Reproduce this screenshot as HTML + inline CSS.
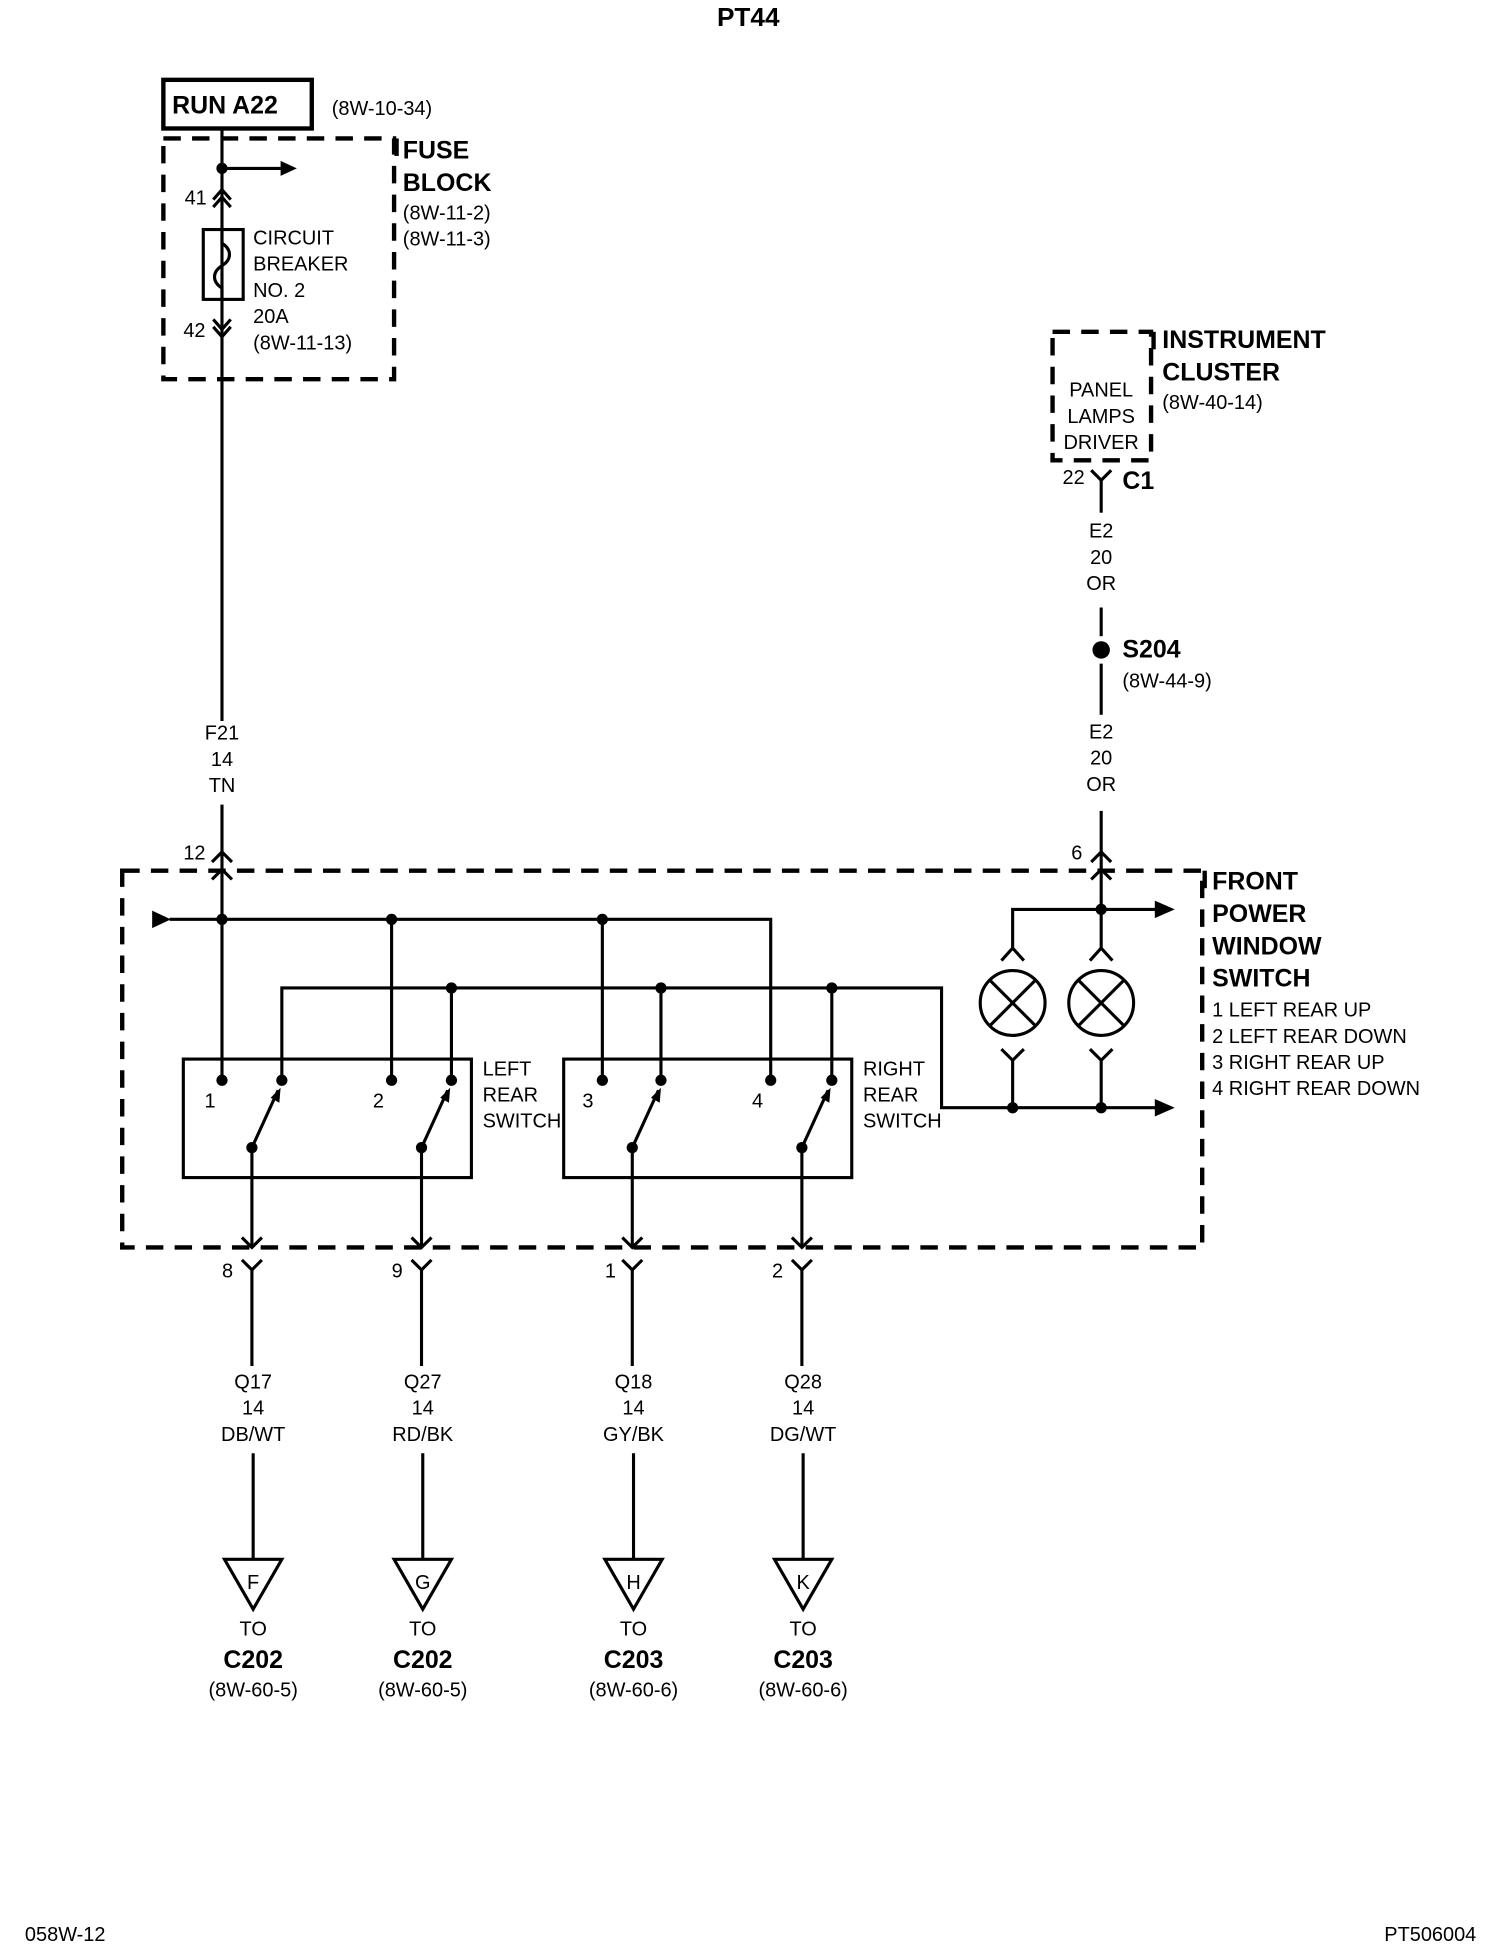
<!DOCTYPE html>
<html><head><meta charset="utf-8"><style>
html,body{margin:0;padding:0;background:#fff}
svg{display:block}
text{font-family:"Liberation Sans Narrow","Liberation Sans",sans-serif;fill:#000}
.b{font-weight:bold}
</style></head><body>
<svg width="1504" height="1956" viewBox="0 0 1206 1568" preserveAspectRatio="none" xmlns="http://www.w3.org/2000/svg">
<g stroke="#000" stroke-width="2.5" fill="none">
<rect x="131" y="64" width="119" height="39" stroke-width="3.5"/>
<rect x="131" y="111" width="185" height="193" stroke-width="3.5" stroke-dasharray="14,9"/>
<line x1="178" y1="103" x2="178" y2="578"/>
<line x1="178" y1="645" x2="178" y2="866"/>
<line x1="178" y1="135" x2="225" y2="135"/>
<polyline points="171,160 178,152 185,160"/><polyline points="171,166 178,158 185,166"/>
<rect x="163" y="184" width="32" height="56"/>
<path d="M178,184 L178,195 C186,200 186,208 178,213 C170,218 170,226 178,231 L178,240"/>
<polyline points="171,256 178,264 185,256"/><polyline points="171,262 178,270 185,262"/>
<polyline points="170,691 178,683 186,691"/>
<polyline points="170,705 178,697 186,705"/>
<rect x="98" y="698" width="866" height="302" stroke-width="3.5" stroke-dasharray="14,9"/>
<polyline points="136,737 618,737 618,866"/>
<line x1="314" y1="737" x2="314" y2="866"/>
<line x1="483" y1="737" x2="483" y2="866"/>
<polyline points="226,866 226,792 755,792 755,888 928,888"/>
<line x1="362" y1="792" x2="362" y2="866"/>
<line x1="530" y1="792" x2="530" y2="866"/>
<line x1="667" y1="792" x2="667" y2="866"/>
<rect x="147" y="849" width="231" height="95"/>
<rect x="452" y="849" width="231" height="95"/>
<line x1="202" y1="920" x2="223" y2="874"/>
<line x1="338" y1="920" x2="359" y2="874"/>
<line x1="507" y1="920" x2="528" y2="874"/>
<line x1="643" y1="920" x2="664" y2="874"/>
<line x1="202" y1="920" x2="202" y2="1000"/>
<line x1="338" y1="920" x2="338" y2="1000"/>
<line x1="507" y1="920" x2="507" y2="1000"/>
<line x1="643" y1="920" x2="643" y2="1000"/>
<polyline points="194,992 202,1000 210,992"/>
<polyline points="330,992 338,1000 346,992"/>
<polyline points="499,992 507,1000 515,992"/>
<polyline points="635,992 643,1000 651,992"/>
<polyline points="194,1010 202,1018 210,1010"/><line x1="202" y1="1018" x2="202" y2="1095"/>
<polyline points="330,1010 338,1018 346,1010"/><line x1="338" y1="1018" x2="338" y2="1095"/>
<polyline points="499,1010 507,1018 515,1010"/><line x1="507" y1="1018" x2="507" y2="1095"/>
<polyline points="635,1010 643,1018 651,1010"/><line x1="643" y1="1018" x2="643" y2="1095"/>
<line x1="203" y1="1165" x2="203" y2="1250"/>
<line x1="339" y1="1165" x2="339" y2="1250"/>
<line x1="508" y1="1165" x2="508" y2="1250"/>
<line x1="644" y1="1165" x2="644" y2="1250"/>
<polygon points="180,1250 226,1250 203,1290"/>
<polygon points="316,1250 362,1250 339,1290"/>
<polygon points="485,1250 531,1250 508,1290"/>
<polygon points="621,1250 667,1250 644,1290"/>
<rect x="844" y="266" width="79" height="103" stroke-width="3.5" stroke-dasharray="14,9"/>
<polyline points="875,377 883,385 891,377"/>
<line x1="883" y1="385" x2="883" y2="411"/>
<line x1="883" y1="487" x2="883" y2="510"/>
<line x1="883" y1="532" x2="883" y2="573"/>
<line x1="883" y1="650" x2="883" y2="760"/>
<polyline points="875,691 883,683 891,691"/>
<polyline points="875,705 883,697 891,705"/>
<line x1="883" y1="729" x2="928" y2="729"/>
<polyline points="812,760 812,729 883,729"/>
<polyline points="803,770 812,760 821,770"/>
<polyline points="874,770 883,760 892,770"/>
<circle cx="812" cy="804" r="26"/>
<circle cx="883" cy="804" r="26"/>
<line x1="794" y1="786" x2="830" y2="822"/><line x1="830" y1="786" x2="794" y2="822"/>
<line x1="865" y1="786" x2="901" y2="822"/><line x1="901" y1="786" x2="865" y2="822"/>
<polyline points="803,841 812,850 821,841"/><line x1="812" y1="850" x2="812" y2="888"/>
<polyline points="874,841 883,850 892,841"/><line x1="883" y1="850" x2="883" y2="888"/>
</g>
<g fill="#000">
<polygon points="225,129 238,135 225,141"/>
<polygon points="122,730 137,737 122,744"/>
<polygon points="926,722 942,729 926,736"/>
<polygon points="926,881 942,888 926,895"/>
<circle cx="178" cy="135" r="4.5"/>
<circle cx="178" cy="737" r="4.5"/><circle cx="314" cy="737" r="4.5"/><circle cx="483" cy="737" r="4.5"/>
<circle cx="362" cy="792" r="4.5"/><circle cx="530" cy="792" r="4.5"/><circle cx="667" cy="792" r="4.5"/>
<circle cx="178" cy="866" r="4.5"/><circle cx="226" cy="866" r="4.5"/><circle cx="314" cy="866" r="4.5"/><circle cx="362" cy="866" r="4.5"/>
<circle cx="483" cy="866" r="4.5"/><circle cx="530" cy="866" r="4.5"/><circle cx="618" cy="866" r="4.5"/><circle cx="667" cy="866" r="4.5"/>
<circle cx="202" cy="920" r="4.5"/><circle cx="338" cy="920" r="4.5"/><circle cx="507" cy="920" r="4.5"/><circle cx="643" cy="920" r="4.5"/>
<circle cx="883" cy="729" r="4.5"/><circle cx="812" cy="888" r="4.5"/><circle cx="883" cy="888" r="4.5"/>
<circle cx="883" cy="521" r="7"/>
<polygon points="217,880 225,872 224,884"/><polygon points="353,880 361,872 360,884"/>
<polygon points="522,880 530,872 529,884"/><polygon points="658,880 666,872 665,884"/>
</g>
<g font-size="16">
<text x="600" y="21" class="b" font-size="21" text-anchor="middle">PT44</text>
<text x="138" y="91" class="b" font-size="20">RUN A22</text>
<text x="266" y="92">(8W-10-34)</text>
<text x="323" y="127" class="b" font-size="20">FUSE</text>
<text x="323" y="153" class="b" font-size="20">BLOCK</text>
<text x="323" y="176">(8W-11-2)</text>
<text x="323" y="197">(8W-11-3)</text>
<text x="148" y="164">41</text>
<text x="147" y="270">42</text>
<text x="203" y="196">CIRCUIT</text>
<text x="203" y="217">BREAKER</text>
<text x="203" y="238">NO. 2</text>
<text x="203" y="259">20A</text>
<text x="203" y="280">(8W-11-13)</text>
<g text-anchor="middle">
<text x="178" y="593">F21</text><text x="178" y="614">14</text><text x="178" y="635">TN</text>
<text x="883" y="431">E2</text><text x="883" y="452">20</text><text x="883" y="473">OR</text>
<text x="883" y="592">E2</text><text x="883" y="613">20</text><text x="883" y="634">OR</text>
<text x="883" y="318">PANEL</text><text x="883" y="339">LAMPS</text><text x="883" y="360">DRIVER</text>
<text x="203" y="1113">Q17</text><text x="203" y="1134">14</text><text x="203" y="1155">DB/WT</text>
<text x="339" y="1113">Q27</text><text x="339" y="1134">14</text><text x="339" y="1155">RD/BK</text>
<text x="508" y="1113">Q18</text><text x="508" y="1134">14</text><text x="508" y="1155">GY/BK</text>
<text x="644" y="1113">Q28</text><text x="644" y="1134">14</text><text x="644" y="1155">DG/WT</text>
<text x="203" y="1274">F</text><text x="339" y="1274">G</text><text x="508" y="1274">H</text><text x="644" y="1274">K</text>
<text x="203" y="1311">TO</text><text x="339" y="1311">TO</text><text x="508" y="1311">TO</text><text x="644" y="1311">TO</text>
<g class="b" font-size="20"><text x="203" y="1337">C202</text><text x="339" y="1337">C202</text><text x="508" y="1337">C203</text><text x="644" y="1337">C203</text></g>
<text x="203" y="1360">(8W-60-5)</text><text x="339" y="1360">(8W-60-5)</text><text x="508" y="1360">(8W-60-6)</text><text x="644" y="1360">(8W-60-6)</text>
</g>
<text x="147" y="689">12</text>
<text x="859" y="689">6</text>
<text x="852" y="388">22</text>
<text x="900" y="392" class="b" font-size="20">C1</text>
<text x="900" y="527" class="b" font-size="20">S204</text>
<text x="900" y="551">(8W-44-9)</text>
<text x="932" y="279" class="b" font-size="20">INSTRUMENT</text>
<text x="932" y="305" class="b" font-size="20">CLUSTER</text>
<text x="932" y="328">(8W-40-14)</text>
<text x="164" y="888">1</text><text x="299" y="888">2</text><text x="467" y="888">3</text><text x="603" y="888">4</text>
<text x="387" y="862">LEFT</text><text x="387" y="883">REAR</text><text x="387" y="904">SWITCH</text>
<text x="692" y="862">RIGHT</text><text x="692" y="883">REAR</text><text x="692" y="904">SWITCH</text>
<text x="178" y="1024">8</text><text x="314" y="1024">9</text><text x="485" y="1024">1</text><text x="619" y="1024">2</text>
<g class="b" font-size="20"><text x="972" y="713">FRONT</text><text x="972" y="739">POWER</text><text x="972" y="765">WINDOW</text><text x="972" y="791">SWITCH</text></g>
<text x="972" y="815">1 LEFT REAR UP</text>
<text x="972" y="836">2 LEFT REAR DOWN</text>
<text x="972" y="857">3 RIGHT REAR UP</text>
<text x="972" y="878">4 RIGHT REAR DOWN</text>
<text x="20" y="1556">058W-12</text>
<text x="1110" y="1556">PT506004</text>
</g>
<g stroke="#000" stroke-width="3.5">
<line x1="318" y1="111" x2="318" y2="125"/>
<line x1="966" y1="698" x2="966" y2="712"/>
<line x1="925" y1="266" x2="925" y2="280"/>
</g>
</svg>
</body></html>
